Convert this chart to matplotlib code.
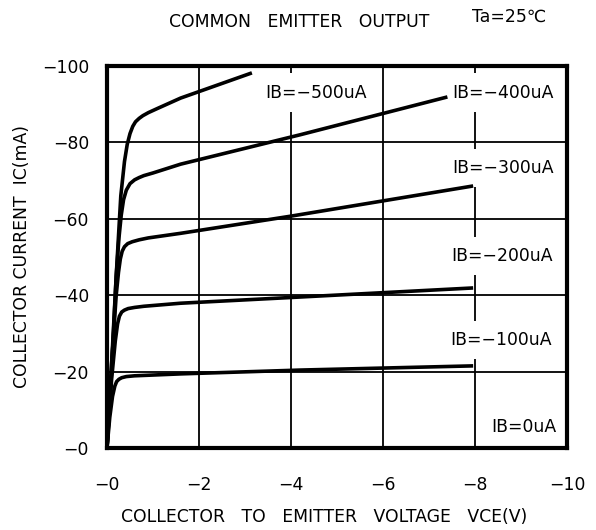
import matplotlib
matplotlib.use('Agg')
import matplotlib.pyplot as plt

plt.rcParams['font.family'] = ['DejaVu Sans']

# Curves (VCE in V, IC in mA)
vce_500 = [0, -0.1, -0.2, -0.3, -0.38, -0.44, -0.5, -0.56, -0.62, -0.7, -0.78,
           -0.9, -1.1, -1.6, -3.15]
ic_500 = [0, -20, -45, -66, -75, -79.5, -82.3, -84.2, -85.4, -86.3, -87,
          -87.8, -88.9, -91.6, -98.2]

vce_400 = [0, -0.1, -0.2, -0.26, -0.31, -0.36, -0.42, -0.5, -0.6, -0.7, -0.8,
           -1.0, -1.6, -4.2, -7.4]
ic_400 = [0, -22, -45, -55, -61, -65, -67.5, -69.2, -70.2, -70.8, -71.3,
          -72, -74.3, -82, -91.9]

vce_300 = [0, -0.1, -0.2, -0.25, -0.29, -0.33, -0.38, -0.45, -0.55, -0.7, -0.9,
           -1.6, -4.0, -7.96]
ic_300 = [0, -22, -40, -46, -49.5, -51.5, -52.7, -53.5, -54, -54.5, -55,
          -56.2, -60.7, -68.6]

vce_200 = [0, -0.1, -0.18, -0.23, -0.27, -0.32, -0.38, -0.46, -0.6, -0.8,
           -1.6, -4.0, -7.96]
ic_200 = [0, -18, -28, -32.5, -34.5, -35.6, -36.1, -36.5, -36.8, -37.1,
          -37.9, -39.4, -41.9]

vce_100 = [0, -0.06, -0.12, -0.17, -0.21, -0.26, -0.32, -0.42, -0.6, -1.6,
           -4.2, -7.96]
ic_100 = [0, -8, -13.5, -16.2, -17.4, -18.0, -18.4, -18.7, -18.9, -19.4,
          -20.4, -21.5]

curves = [(vce_500, ic_500), (vce_400, ic_400), (vce_300, ic_300),
          (vce_200, ic_200), (vce_100, ic_100)]

# Curve labels: text, x, y
labels = ['IB=−500uA', 'IB=−400uA', 'IB=−300uA', 'IB=−200uA', 'IB=−100uA']
label_x = [-3.43, -7.5, -7.5, -7.48, -7.46]
label_y = [-93, -93, -73.3, -50.3, -28.3]

x_ticks = [0, -2, -4, -6, -8, -10]
x_ticklabels = ['−0', '−2', '−4', '−6', '−8', '−10']
y_ticks = [0, -20, -40, -60, -80, -100]
y_ticklabels = ['−0', '−20', '−40', '−60', '−80', '−100']

FS = 12.4

fig = plt.figure(figsize=(5.96, 5.30), dpi=100)
ax = fig.add_axes([107 / 596, 82 / 530, 460 / 596, 382 / 530])

ax.set_xlim(0, -10)
ax.set_ylim(0, -100)
ax.set_xticks(x_ticks)
ax.set_xticklabels(x_ticklabels, fontsize=FS)
ax.set_yticks(y_ticks)
ax.set_yticklabels(y_ticklabels, fontsize=FS)
ax.tick_params(length=0)
ax.tick_params(axis='x', pad=20)
ax.tick_params(axis='y', pad=13)

ax.grid(True, color='black', linewidth=1.3, zorder=1)
ax.set_axisbelow(True)
for sp in ax.spines.values():
    sp.set_linewidth(3.0)
    sp.set_zorder(5)

for vx, iy in curves:
    ax.plot(vx, iy, color='black', linewidth=2.6, solid_joinstyle='round',
            solid_capstyle='butt', zorder=4)

for t, lx, ly in zip(labels, label_x, label_y):
    ax.text(lx, ly, t, fontsize=FS, ha='left', va='center', zorder=3,
            bbox=dict(boxstyle='square,pad=0.6', facecolor='white', edgecolor='none'))
ax.text(-9.76, -5.5, 'IB=0uA', fontsize=FS, ha='right', va='center', zorder=3)

fig.text(299 / 596, 1 - 22 / 530, 'COMMON   EMITTER   OUTPUT', fontsize=FS,
         ha='center', va='center')
fig.text(509 / 596, 1 - 17 / 530, 'Ta=25℃', fontsize=FS, ha='center', va='center')
fig.text(324 / 596, 1 - 517 / 530, 'COLLECTOR   TO   EMITTER   VOLTAGE   VCE(V)',
         fontsize=FS, ha='center', va='center')
fig.text(22 / 596, 1 - 257 / 530, 'COLLECTOR CURRENT  IC(mA)', fontsize=FS,
         ha='center', va='center', rotation=90)

fig.savefig('out.png', dpi=100)
